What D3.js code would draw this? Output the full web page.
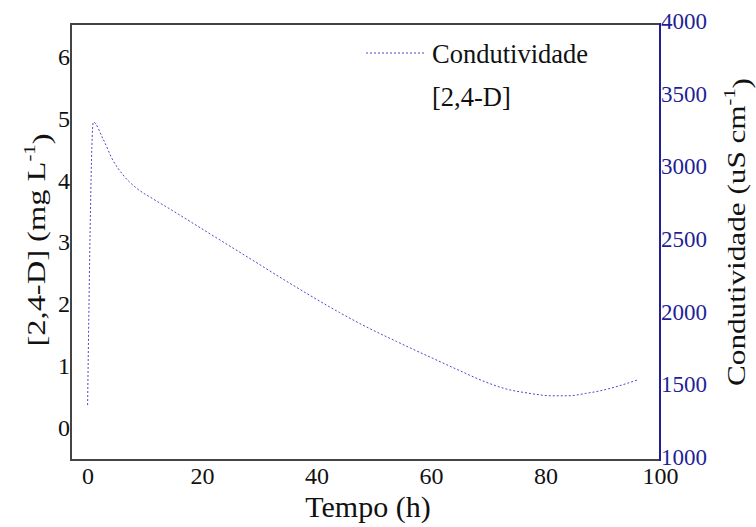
<!DOCTYPE html>
<html lang="pt">
<head>
  <meta charset="utf-8">
  <title>Condutividade x Tempo</title>
  <style>
    body { margin: 0; background: #fff; }
    svg text { font-family: "Liberation Serif", "Times New Roman", serif; }
  </style>
</head>
<body>
  <div id="chart"></div>

  <script src="https://d3js.org/d3.v7.min.js"></script>
  <script>
    // values
    var tempo = [0, 1, 2.7, 4.4, 6.2, 8.5, 11.5, 14, 20, 28, 36, 44, 48, 54, 60, 65, 69, 73, 77, 81, 84, 87, 90, 93, 96];
    var condutividade = [1378, 3325, 3209, 3064, 2961, 2872, 2795, 2736, 2590, 2395, 2200, 2015, 1930, 1815, 1705, 1615, 1545, 1490, 1460, 1442, 1442, 1458, 1480, 1512, 1550];

    var xTicks = [0, 20, 40, 60, 80, 100];
    var leftTicks = [0, 1, 2, 3, 4, 5, 6];
    var rightTicks = [1000, 1500, 2000, 2500, 3000, 3500, 4000];

    var W = 756, H = 527;
    var m = { left: 71, right: 660, top: 24, bottom: 460 };
    var navy = "#1f1f96";
    var curveColor = "#4a4ad0";

    var x = d3.scaleLinear().domain([-2.9, 100]).range([m.left, m.right]);
    var yL = d3.scaleLinear().domain([-0.52, 6.53]).range([m.bottom, m.top]);
    var yR = d3.scaleLinear().domain([1000, 4000]).range([m.bottom, m.top]);

    var svg = d3.select("#chart").append("svg")
        .attr("width", W)
        .attr("height", H);

    // axes: labels only, no tick marks
    var gx = svg.append("g")
        .attr("transform", "translate(0," + m.bottom + ")")
        .call(d3.axisBottom(x).tickValues(xTicks).tickFormat(d3.format("d")).tickSize(0));
    gx.select(".domain").remove();
    gx.selectAll("text")
        .attr("y", 24).attr("dy", 0)
        .attr("font-size", 24)
        .attr("fill", "#111");

    var gl = svg.append("g")
        .attr("transform", "translate(" + m.left + ",0)")
        .call(d3.axisLeft(yL).tickValues(leftTicks).tickFormat(d3.format("d")).tickSize(0).tickPadding(1));
    gl.select(".domain").remove();
    gl.selectAll("text")
        .attr("font-size", 24)
        .attr("fill", "#111");

    var gr = svg.append("g")
        .attr("transform", "translate(" + m.right + ",0)")
        .call(d3.axisRight(yR).tickValues(rightTicks).tickFormat(d3.format("d")).tickSize(0).tickPadding(1));
    gr.select(".domain").remove();
    gr.selectAll("text")
        .attr("font-size", 23)
        .attr("dy", "0.2em")
        .attr("fill", navy);

    // frame
    svg.append("path")
        .attr("d", "M" + m.right + "," + m.top + "H" + m.left + "V" + m.bottom + "H" + m.right)
        .attr("fill", "none")
        .attr("stroke", "#444")
        .attr("stroke-width", 2);
    svg.append("line")
        .attr("x1", m.right).attr("x2", m.right)
        .attr("y1", m.top - 1).attr("y2", m.bottom + 1)
        .attr("stroke", navy)
        .attr("stroke-width", 2);

    // conductivity curve
    var line = d3.line()
        .x(function(d, i) { return x(tempo[i]); })
        .y(function(d) { return yR(d); })
        .curve(d3.curveMonotoneX);

    svg.append("path")
        .datum(condutividade)
        .attr("d", line)
        .attr("fill", "none")
        .attr("stroke", curveColor)
        .attr("stroke-width", 1)
        .attr("stroke-dasharray", "2,2");

    // legend
    svg.append("line")
        .attr("x1", 366).attr("x2", 424)
        .attr("y1", 53).attr("y2", 53)
        .attr("stroke", curveColor)
        .attr("stroke-width", 1)
        .attr("stroke-dasharray", "2,2");
    svg.append("text")
        .attr("x", 432).attr("y", 63)
        .attr("font-size", 26.5)
        .attr("fill", "#111")
        .text("Condutividade");
    svg.append("text")
        .attr("x", 432).attr("y", 106)
        .attr("font-size", 26.5)
        .attr("fill", "#111")
        .text("[2,4-D]");

    // axis titles
    svg.append("text")
        .attr("x", 368).attr("y", 517)
        .attr("text-anchor", "middle")
        .attr("font-size", 30)
        .attr("fill", "#111")
        .text("Tempo (h)");

    var tl = svg.append("text")
        .attr("transform", "translate(45,240) rotate(-90) scale(1.3,1)")
        .attr("text-anchor", "middle")
        .attr("font-size", 25)
        .attr("fill", "#111");
    tl.append("tspan").text("[2,4-D] (mg L");
    tl.append("tspan").attr("dy", "-0.6em").attr("font-size", 16).text("-1");
    tl.append("tspan").attr("dy", "0.6em").text(")");

    var tr = svg.append("text")
        .attr("transform", "translate(745,232) rotate(-90) scale(1.2,1)")
        .attr("text-anchor", "middle")
        .attr("font-size", 26)
        .attr("fill", "#111");
    tr.append("tspan").text("Condutividade (uS cm");
    tr.append("tspan").attr("dy", "-0.6em").attr("font-size", 17).text("-1");
    tr.append("tspan").attr("dy", "0.6em").text(")");
  </script>
</body>
</html>
